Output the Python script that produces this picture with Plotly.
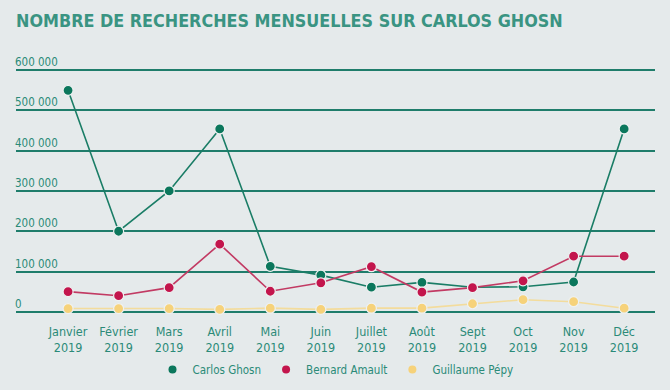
import plotly.graph_objects as go

months = ["Janvier<br>2019", "Février<br>2019", "Mars<br>2019", "Avril<br>2019", "Mai<br>2019",
          "Juin<br>2019", "Juillet<br>2019", "Août<br>2019", "Sept<br>2019", "Oct<br>2019",
          "Nov<br>2019", "Déc<br>2019"]
carlos_ghosn = [550000, 200000, 300000, 454000, 113000, 91000, 61000, 73000, 61000, 62000, 74000, 454000]
bernard_arnault = [50000, 40000, 60000, 168000, 51000, 72000, 112000, 49000, 60000, 77000, 138000, 138000]
guillaume_pepy = [8000, 8000, 8000, 6000, 9000, 6000, 9000, 9000, 20000, 30000, 25000, 9000]
series_names = ["Carlos Ghosn", "Bernard Amault", "Guillaume Pépy"]
y_ticks = [0, 100000, 200000, 300000, 400000, 500000, 600000]
y_tick_text = ["0", "100 000", "200 000", "300 000", "400 000", "500 000", "600 000"]

BG = "#e5eaeb"
TEAL = "#2b8a78"
GRID = "#1f7d6b"
colors = ["#0b775c", "#c3154c", "#f6d27a"]
line_colors = ["#1a7d66", "#c23a63", "#f3dc9c"]
FONT = "DejaVu Sans Condensed, Liberation Sans Narrow, sans-serif"

fig = go.Figure()
for vals, name, c, lc in zip([carlos_ghosn, bernard_arnault, guillaume_pepy], series_names, colors, line_colors):
    fig.add_trace(go.Scatter(
        x=months, y=vals, mode="lines+markers", name=name, showlegend=False,
        line=dict(color=lc, width=1.6),
        marker=dict(color=c, size=10, line=dict(color="#eef1f1", width=1.2)),
        cliponaxis=False,
    ))
for name, c in zip(series_names, colors):
    fig.add_trace(go.Scatter(
        x=[None], y=[None], mode="markers", name=name,
        marker=dict(color=c, size=8),
    ))

fig.update_layout(
    width=670, height=390,
    paper_bgcolor=BG, plot_bgcolor=BG,
    margin=dict(l=16, r=15, t=50, b=77, autoexpand=False),
    title=dict(text="<b>NOMBRE DE RECHERCHES MENSUELLES SUR CARLOS GHOSN</b>",
               x=0.024, xref="container", xanchor="left", y=0.947, yanchor="middle",
               font=dict(family=FONT, size=17.8, color="#3a9482")),
    font=dict(family=FONT, size=12, color=TEAL),
    showlegend=True,
    legend=dict(orientation="h", x=0.5, xanchor="center", y=-0.215, yanchor="middle",
                font=dict(family=FONT, size=11.5, color=TEAL), itemwidth=30,
                bgcolor="rgba(0,0,0,0)", tracegroupgap=0),
    xaxis=dict(type="category", range=[-1.03, 11.61], showgrid=False, zeroline=False,
               showline=False, ticks="", automargin=False,
               tickfont=dict(family=FONT, size=12.5, color=TEAL), ticklabelstandoff=9),
    yaxis=dict(range=[-3000, 650000], tickvals=y_ticks, ticktext=y_tick_text,
               ticklabelposition="inside top", showgrid=True, gridcolor=GRID, gridwidth=2,
               zeroline=False, showline=False, ticks="", automargin=False,
               ticklabelstandoff=-4,
               tickfont=dict(family=FONT, size=11.5, color=TEAL)),
)

fig.write_html("out.html", config={"displayModeBar": False},
               post_script="document.body.style.margin='0';document.body.style.background='#e5eaeb';")
